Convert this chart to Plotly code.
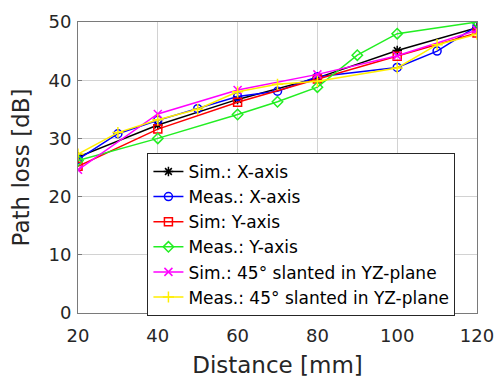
import plotly.graph_objects as go

# Data
sim_x_dist = [20, 40, 60, 80, 100, 120]
sim_x_loss = [26.8, 32.3, 36.7, 40.4, 45.1, 49.0]

meas_x_dist = [20, 30, 40, 50, 60, 70, 80, 100, 110, 120]
meas_x_loss = [26.4, 30.8, 33.1, 35.1, 37.2, 38.1, 40.6, 42.2, 45.0, 49.3]

sim_y_dist = [20, 40, 60, 80, 100, 120]
sim_y_loss = [25.2, 31.6, 36.2, 40.2, 44.1, 48.1]

meas_y_dist = [20, 40, 60, 70, 80, 90, 100, 120]
meas_y_loss = [26.2, 30.0, 34.1, 36.3, 38.8, 44.3, 48.0, 50.0]

sim_45_dist = [20, 40, 60, 80, 100, 120]
sim_45_loss = [24.6, 34.2, 38.3, 41.0, 44.2, 48.6]

meas_45_dist = [20, 30, 40, 50, 60, 70, 80, 100, 110, 120]
meas_45_loss = [27.3, 31.0, 33.2, 35.0, 38.0, 39.3, 39.8, 42.1, 46.1, 47.9]

series = [
    ("Sim.: X-axis", sim_x_dist, sim_x_loss, "#000000", "asterisk-open"),
    ("Meas.: X-axis", meas_x_dist, meas_x_loss, "#0000ff", "circle-open"),
    ("Sim: Y-axis", sim_y_dist, sim_y_loss, "#ff0000", "square-open"),
    ("Meas.: Y-axis", meas_y_dist, meas_y_loss, "#22ee22", "diamond-open"),
    ("Sim.: 45° slanted in YZ-plane", sim_45_dist, sim_45_loss, "#ff00ff", "x-thin-open"),
    ("Meas.: 45° slanted in YZ-plane", meas_45_dist, meas_45_loss, "#ffee00", "cross-thin-open"),
]

x_ticks = [20, 40, 60, 80, 100, 120]
y_ticks = [0, 10, 20, 30, 40, 50]

FONT = "DejaVu Sans"

fig = go.Figure()
for name, xs, ys, col, sym in series:
    fig.add_trace(go.Scatter(
        x=xs, y=ys, mode="lines+markers", name=name,
        line=dict(color=col, width=1.5),
        marker=dict(symbol=sym, size=8, color=col, line=dict(color=col, width=1.5)),
    ))

axis_common = dict(
    showgrid=True, gridcolor="#d2d2d2", gridwidth=1,
    showline=True, linecolor="#7a7a7a", linewidth=1, mirror=True,
    ticks="inside", ticklen=4, tickcolor="#7a7a7a",
    zeroline=False, automargin=False,
    tickfont=dict(family=FONT, size=18, color="#262626"),
)

fig.update_layout(
    width=497, height=379,
    margin=dict(l=78, r=20, t=22, b=66),
    paper_bgcolor="white", plot_bgcolor="white",
    xaxis=dict(range=[20, 120], tickvals=x_ticks, ticklabelstandoff=6,
               title=dict(text="Distance [mm]", font=dict(family=FONT, size=23, color="#262626"), standoff=12),
               **axis_common),
    yaxis=dict(range=[0, 50], tickvals=y_ticks, ticklabelstandoff=2,
               title=dict(text="Path loss [dB]", font=dict(family=FONT, size=23, color="#262626"), standoff=12),
               **axis_common),
    legend=dict(
        x=0.174, y=0.55, xanchor="left", yanchor="top",
        bgcolor="white", bordercolor="#262626", borderwidth=1,
        font=dict(family=FONT, size=17, color="#000000"),
        tracegroupgap=0, itemwidth=30,
    ),
    showlegend=True,
)

fig.write_html("out.html")
